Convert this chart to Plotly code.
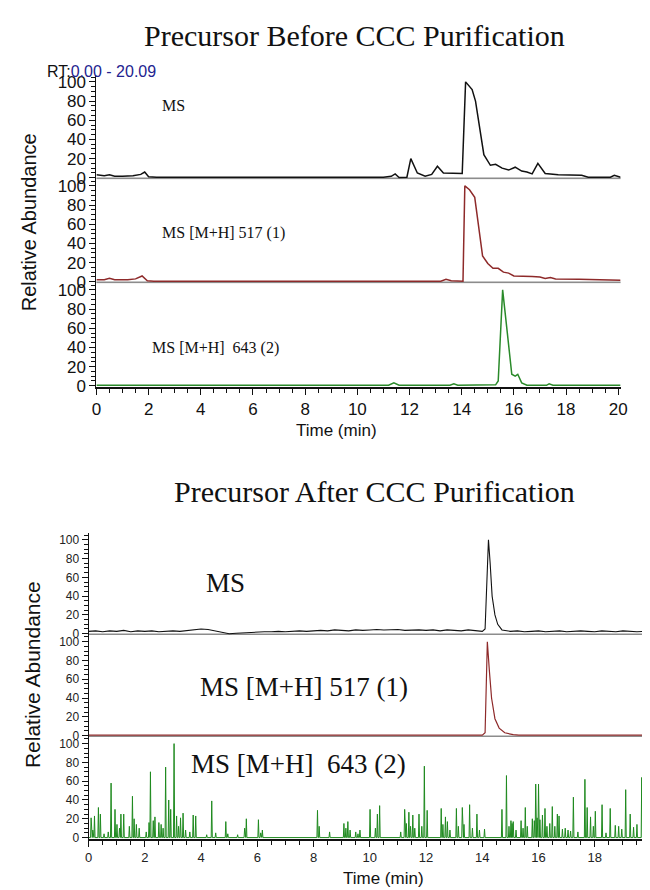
import plotly.graph_objects as go

# ---------------- DATA ----------------
# Top chart: Precursor Before CCC Purification
before_ms_t = [0, 0.3, 0.5, 0.7, 1.0, 1.4, 1.7, 1.85, 2.0, 2.3, 11.0, 11.3, 11.45, 11.6, 11.9, 12.05,
               12.3, 12.6, 12.85, 13.07, 13.3, 13.6, 14.02, 14.15, 14.4, 14.53, 14.85, 15.1, 15.3,
               15.55, 15.8, 16.05, 16.3, 16.5, 16.7, 16.92, 17.2, 17.7, 18.6, 18.85, 19.7, 19.85, 20.09]
before_ms_v = [3, 2, 3, 1.5, 1.5, 2, 3.5, 6, 1, 0.5, 0.5, 1.5, 4, 0.3, 0.5, 20,
               5, 1.5, 3.5, 12, 5, 4.5, 4.5, 100, 92, 80, 24, 13, 14,
               10, 8, 11, 7, 6, 4, 15, 4.5, 3, 2.5, 0.5, 0.5, 2.5, 0.5]

before_517_t = [0, 0.3, 0.5, 0.7, 1.2, 1.5, 1.75, 1.95, 2.2, 13.2, 13.4, 13.6, 14.05, 14.12, 14.3,
                14.5, 14.8, 15.0, 15.2, 15.4, 15.6, 15.8, 16.0, 16.3, 16.7, 17.0, 17.2, 17.4, 17.6,
                18.5, 19.0, 19.6, 20.09]
before_517_v = [2, 2, 3.5, 2, 2, 3, 6, 1, 0.5, 0.5, 2.5, 1, 0.5, 100, 96,
                88, 27, 19, 14, 14, 10, 9, 6, 6, 5.5, 5, 3.5, 4.5, 3,
                2.5, 2, 2, 1.5]

before_643_t = [0, 11.2, 11.4, 11.6, 13.55, 13.7, 13.85, 15.3, 15.4, 15.57, 15.75, 15.92, 16.05,
                16.15, 16.3, 16.5, 17.25, 17.35, 17.5, 19.9, 20.0, 20.09]
before_643_v = [0.5, 0.5, 3, 0.5, 0.5, 2, 0.5, 1, 5, 100, 55, 12, 10,
                12, 3, 0.5, 0.5, 2, 0.5, 0.5, 1, 0.5]

# Bottom chart: Precursor After CCC Purification
after_ms_t = [0, 0.25, 0.5, 0.75, 1.0, 1.25, 1.5, 1.75,
              2.0, 2.25, 2.5, 2.75, 3.0, 3.25, 3.5, 3.75,
              4.0, 4.25, 4.5, 4.75, 5.0, 5.25, 5.5, 5.75,
              6.0, 6.25, 6.5, 6.75, 7.0, 7.25, 7.5, 7.75,
              8.0, 8.25, 8.5, 8.75, 9.0, 9.25, 9.5, 9.75,
              10.0, 10.25, 10.5, 10.75, 11.0, 11.25, 11.5, 11.75,
              12.0, 12.25, 12.5, 12.75, 13.0, 13.25, 13.5, 13.75,
              14.0, 14.1, 14.17, 14.22, 14.28, 14.35, 14.45, 14.55, 14.7, 14.9,
              15.0, 15.25, 15.5, 15.75, 16.0, 16.25, 16.5, 16.75, 17.0, 17.25, 17.5,
              17.75, 18.0, 18.25, 18.5, 18.75, 19.0, 19.25, 19.5, 19.75, 20.0]
after_ms_v = [2.5, 3, 2, 3, 2.5, 3.5, 2, 3,
              2.5, 3, 2, 2.5, 3, 2.5, 3.5, 4,
              5, 4.5, 3, 1, 0, 0.5, 1, 1.5,
              1.5, 2, 2, 2.5, 2, 2.5, 3, 2.5,
              3, 3.5, 3, 4, 3.5, 3, 4, 3.5,
              4, 4.5, 4, 4, 4.5, 3.5, 4, 4,
              3.5, 4, 3, 4, 3.5, 3, 4, 3,
              2.5, 5, 60, 100, 75, 40, 20, 10, 4, 2.5,
              2.5, 3, 2, 2.5, 3, 2, 2.5, 3, 2, 2.5, 3,
              2.5, 2, 3, 2.5, 2, 3, 2.5, 2, 2.5, 3]

after_517_t = [0, 14.0, 14.1, 14.18, 14.25, 14.33, 14.45, 14.6, 14.8, 15.1, 15.3, 20.0]
after_517_v = [0.5, 0.5, 3, 100, 70, 40, 18, 8, 3, 1, 0.5, 0.5]

# noise spikes of the 643 trace: (time, height)
after_643_spike_t = [0.09, 0.15, 0.21, 0.35, 0.42, 0.55, 0.7, 0.8, 0.94, 1.01, 1.1, 1.15, 1.25, 1.45,
                     1.56, 1.62, 1.7, 1.8, 2.05, 2.15, 2.2, 2.3, 2.36, 2.5, 2.58, 2.65, 2.74, 2.85,
                     2.92, 3.04, 3.13, 3.2, 3.27, 3.36, 3.45, 3.6, 3.72, 3.81, 4.2, 4.38, 4.52,
                     4.88, 4.95, 5.3, 5.55, 5.61, 6.04, 6.12, 6.18, 8.14, 8.2, 8.57, 9.08, 9.15,
                     9.22, 9.3, 9.5, 9.58, 9.65, 10.01, 10.2, 10.27, 10.35, 11.1, 11.24, 11.3,
                     11.39, 11.45, 11.53, 11.6, 11.75, 11.85, 11.94, 12.04, 12.54, 12.6, 12.69,
                     12.76, 12.85, 13.08, 13.15, 13.29, 13.35, 13.55, 13.65, 13.81, 13.9, 14.08,
                     14.7, 14.86, 14.95, 15.02, 15.06, 15.1, 15.2, 15.38, 15.45, 15.53, 15.6,
                     15.78, 15.85, 15.9, 15.95, 16.0, 16.05, 16.14, 16.23, 16.3, 16.4, 16.49,
                     16.58, 16.67, 16.73, 16.85, 16.95, 17.05, 17.14, 17.24, 17.4, 17.65, 17.73,
                     17.85, 17.95, 18.02, 18.26, 18.4, 18.55, 18.73, 18.85, 18.96, 19.1, 19.26,
                     19.38, 19.5, 19.67, 19.8, 19.96]
after_643_spike_v = [21, 8, 23, 32, 25, 4, 6, 58, 30, 14, 10, 25, 25, 12,
                     44, 20, 14, 10, 6, 16, 70, 18, 22, 16, 14, 10, 75, 40,
                     30, 100, 23, 12, 21, 26, 8, 6, 24, 23, 3, 39, 5,
                     17, 4, 3, 10, 20, 19, 5, 8, 29, 12, 6, 15, 10,
                     17, 8, 6, 4, 8, 30, 10, 25, 34, 6, 30, 15,
                     27, 12, 24, 10, 25, 12, 76, 29, 31, 14, 22,
                     17, 8, 31, 12, 32, 14, 35, 10, 25, 8, 9,
                     30, 66, 12, 18, 15, 17, 8, 18, 10, 32, 12,
                     20, 18, 57, 21, 57, 19, 24, 31, 12, 15, 33,
                     12, 25, 23, 9, 10, 8, 7, 43, 6, 62, 32,
                     22, 12, 28, 35, 5, 31, 13, 12, 9, 51, 25,
                     11, 14, 64, 8, 3]

x_ticks_top = [0, 2, 4, 6, 8, 10, 12, 14, 16, 18, 20]
x_ticks_bottom = [0, 2, 4, 6, 8, 10, 12, 14, 16, 18]
y_ticks = [0, 20, 40, 60, 80, 100]

# ---------------- LAYOUT HELPERS ----------------
W, H = 650, 890


def fy(px):
    return 1 - px / H


def fx(px):
    return px / W


# panel boundaries in pixels (top chart / bottom chart)
top_edges = [65.9, 171.1, 276.3, 381.5]
bot_edges = [529.1, 632.2, 735.3, 838.4]

BLACK = "#111111"
RED = "#8e2a2a"
GREEN = "#2a8a2a"
GREEN2 = "#1f8a1f"

fig = go.Figure()

# spike series for 643 after purification
sx, sy = [0.0], [0.0]
for t, v in zip(after_643_spike_t, after_643_spike_v):
    sx += [t - 0.02, t, t + 0.02]
    sy += [0, v, 0]
sx.append(20.0)
sy.append(0)

traces = [
    (before_ms_t, before_ms_v, BLACK, "x", "y", 1.5),
    (before_517_t, before_517_v, RED, "x", "y2", 1.5),
    (before_643_t, before_643_v, GREEN, "x", "y3", 1.5),
    (after_ms_t, after_ms_v, BLACK, "x2", "y4", 1.1),
    (after_517_t, after_517_v, RED, "x2", "y5", 1.2),
    (sx, sy, GREEN2, "x2", "y6", 1.0),
]
for xs, ys, col, xa, ya, lw in traces:
    fig.add_trace(go.Scatter(x=xs, y=ys, mode="lines", line=dict(color=col, width=lw),
                             xaxis=xa, yaxis=ya, showlegend=False, hoverinfo="skip"))

YR = [-1.5, 107]


def yax(dom, anchor, size, color):
    return dict(domain=dom, anchor=anchor, range=YR, tickvals=y_ticks,
                ticks="outside", ticklen=6, tickwidth=1, tickcolor=BLACK,
                showline=True, linecolor=BLACK, linewidth=1, showgrid=False, zeroline=False,
                tickfont=dict(family="Liberation Sans, Arial", size=size, color=color),
                minor=dict(ticks="outside", ticklen=4, dtick=5, tickcolor=BLACK, showgrid=False),
                fixedrange=True)


layout = dict(
    width=W, height=H, margin=dict(l=0, r=0, t=0, b=0),
    paper_bgcolor="white", plot_bgcolor="white", showlegend=False,
    xaxis=dict(domain=[fx(85), fx(619)], anchor="y3", range=[0, 20.09], tickvals=x_ticks_top,
               ticks="outside", ticklen=6, tickcolor=BLACK, showline=True, linecolor=BLACK,
               linewidth=1.5, showgrid=False, zeroline=False,
               tickfont=dict(family="Liberation Sans, Arial", size=17, color=BLACK),
               minor=dict(ticks="outside", ticklen=4, dtick=0.5, tickcolor=BLACK, showgrid=False)),
    xaxis2=dict(domain=[fx(77), 1.0], anchor="y6", range=[0, 20.0], tickvals=x_ticks_bottom,
                ticks="outside", ticklen=6, tickcolor=BLACK, showline=True, linecolor=BLACK,
                linewidth=1.5, showgrid=False, zeroline=False,
                tickfont=dict(family="Liberation Sans, Arial", size=13, color="#222"),
                minor=dict(ticks="outside", ticklen=4, dtick=0.5, tickcolor=BLACK, showgrid=False)),
    yaxis=yax([fy(top_edges[1]), fy(top_edges[0])], "x", 17, BLACK),
    yaxis2=yax([fy(top_edges[2]), fy(top_edges[1])], "x", 17, BLACK),
    yaxis3=yax([fy(top_edges[3]), fy(top_edges[2])], "x", 17, BLACK),
    yaxis4=yax([fy(bot_edges[1]), fy(bot_edges[0])], "x2", 12, "#222"),
    yaxis5=yax([fy(bot_edges[2]), fy(bot_edges[1])], "x2", 12, "#222"),
    yaxis6=yax([fy(bot_edges[3]), fy(bot_edges[2])], "x2", 12, "#222"),
)
fig.update_layout(**layout)

# gray baselines on upper panels
shapes = []
for xa, ya in [("x", "y"), ("x", "y2"), ("x2", "y4"), ("x2", "y5")]:
    shapes.append(dict(type="line", xref=f"{xa} domain", yref=ya, x0=0, x1=1, y0=-0.8, y1=-0.8,
                       line=dict(color="#8c8c8c", width=2), layer="below"))
fig.update_layout(shapes=shapes)

serif = "Liberation Serif, Times New Roman, serif"
sans = "Liberation Sans, Arial, sans-serif"
ann = [
    dict(text="Precursor Before CCC Purification", x=fx(348), y=fy(26), font=dict(family=serif, size=30, color=BLACK)),
    dict(text="RT:<span style='color:#23238f'>0.00 - 20.09</span>", x=fx(33), y=fy(62), xanchor="left",
         font=dict(family=sans, size=16, color=BLACK)),
    dict(text="Relative Abundance", x=fx(16), y=fy(215), textangle=-90, font=dict(family=sans, size=20, color=BLACK)),
    dict(text="Time (min)", x=fx(330), y=fy(425), font=dict(family=sans, size=17, color=BLACK)),
    dict(text="MS", x=fx(150), y=fy(97), xanchor="left", font=dict(family=serif, size=16, color=BLACK)),
    dict(text="MS [M+H] 517 (1)", x=fx(150), y=fy(226), xanchor="left", font=dict(family=serif, size=16, color=BLACK)),
    dict(text="MS [M+H]&nbsp; 643 (2)", x=fx(140), y=fy(342), xanchor="left", font=dict(family=serif, size=16, color=BLACK)),
    dict(text="Precursor After CCC Purification", x=fx(368), y=fy(487), font=dict(family=serif, size=30, color=BLACK)),
    dict(text="Relative Abundance", x=fx(20), y=fy(672), textangle=-90, font=dict(family=sans, size=21, color=BLACK)),
    dict(text="Time (min)", x=fx(377), y=fy(878), font=dict(family=sans, size=17, color=BLACK)),
    dict(text="MS", x=fx(195), y=fy(580), xanchor="left", font=dict(family=serif, size=27, color=BLACK)),
    dict(text="MS [M+H] 517 (1)", x=fx(188), y=fy(685), xanchor="left", font=dict(family=serif, size=27, color=BLACK)),
    dict(text="MS [M+H]&nbsp; 643 (2)", x=fx(179), y=fy(763), xanchor="left", font=dict(family=serif, size=27, color=BLACK)),
]
for a in ann:
    a.setdefault("xanchor", "center")
    a.update(xref="paper", yref="paper", yanchor="middle", showarrow=False)
fig.update_layout(annotations=ann)

fig.write_html("out.html")
